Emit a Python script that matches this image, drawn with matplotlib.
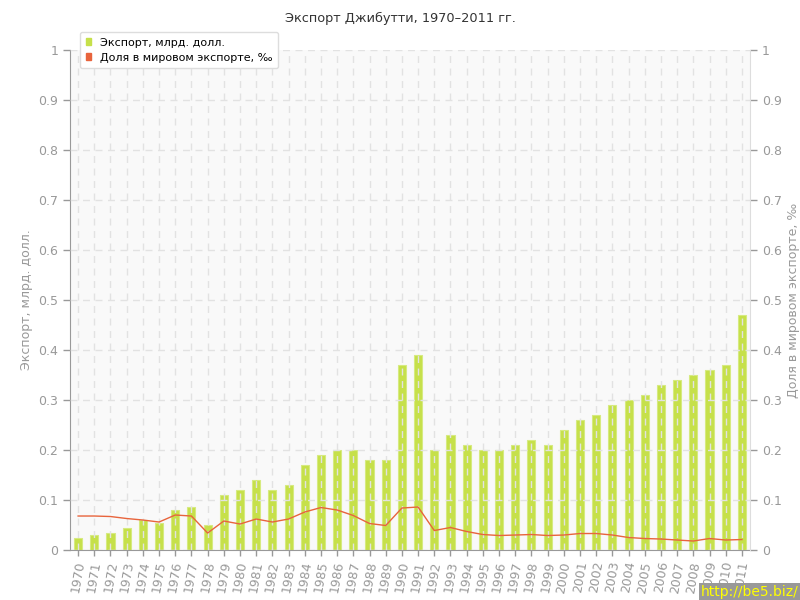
import matplotlib
matplotlib.use("Agg")
import matplotlib.pyplot as plt
import matplotlib.patches as mpatches
import numpy as np

years = list(range(1970, 2012))
export = [0.025, 0.03, 0.035, 0.045, 0.06, 0.055, 0.08, 0.086, 0.05, 0.11,
          0.12, 0.14, 0.12, 0.13, 0.17, 0.19, 0.2, 0.2, 0.18, 0.18,
          0.37, 0.39, 0.2, 0.23, 0.21, 0.2, 0.2, 0.21, 0.22, 0.21,
          0.24, 0.26, 0.27, 0.29, 0.30, 0.31, 0.33, 0.34, 0.35, 0.36,
          0.37, 0.47]
share = [0.068, 0.068, 0.067, 0.063, 0.060, 0.056, 0.070, 0.068, 0.034, 0.058,
         0.052, 0.062, 0.056, 0.062, 0.076, 0.085, 0.080, 0.069, 0.053, 0.049,
         0.084, 0.086, 0.039, 0.045, 0.037, 0.031, 0.029, 0.030, 0.031, 0.029,
         0.030, 0.033, 0.033, 0.030, 0.025, 0.023, 0.022, 0.020, 0.018, 0.023,
         0.020, 0.021]

gray = "#999999"
x = np.arange(len(years))

fig = plt.figure(figsize=(8, 6), dpi=100)
ax = fig.add_axes([0.0875, 0.0833, 0.85, 0.8334])
ax.set_facecolor("#f9f9f9")

ax.bar(x, export, width=0.5, color="#c6e04a", edgecolor="#d6ea80", linewidth=0.8,
       zorder=2, label="Экспорт, млрд. долл.")
ax2 = ax.twinx()
ax2.plot(x, share, color="#e8643c", linewidth=1, zorder=3,
         label="Доля в мировом экспорте, ‰")

ax.set_xlim(-0.5, len(years) - 0.5)
ax.set_ylim(0, 1)
ax2.set_ylim(0, 1)
yt = np.arange(0, 1.01, 0.1)
ylabels = ["0"] + ["%.1f" % v for v in yt[1:-1]] + ["1"]
ax.set_yticks(yt)
ax.set_yticklabels(ylabels)
ax2.set_yticks(yt)
ax2.set_yticklabels(ylabels)
ax.set_xticks(x)
ax.set_xticklabels([str(y) for y in years], rotation=80, ha="center")

ax.grid(True, color="#e2e2e2", linestyle=(0, (5, 4)), linewidth=1, zorder=4)
ax.set_axisbelow(False)

for a in (ax, ax2):
    for s in a.spines.values():
        s.set_visible(False)
    a.tick_params(colors=gray, labelsize=9, length=5, width=1)
ax.spines["left"].set_visible(True)
ax.spines["left"].set_color(gray)
ax.spines["bottom"].set_visible(True)
ax.spines["bottom"].set_color(gray)
ax2.spines["right"].set_visible(True)
ax2.spines["right"].set_color("#dddddd")
ax.tick_params(axis="x", labelsize=9, length=4)

ax.set_ylabel("Экспорт, млрд. долл.", color=gray, fontsize=9)
ax2.set_ylabel("Доля в мировом экспорте, ‰", color=gray, fontsize=9)
fig.text(0.5, 0.97, "Экспорт Джибутти, 1970–2011 гг.", ha="center", va="center",
         fontsize=9.3, color="#333333")

l1 = ax.get_legend_handles_labels()[1]
l2 = ax2.get_legend_handles_labels()[1]
hs = [mpatches.Patch(color="#c6e04a"), mpatches.Patch(color="#e8643c")]
leg = ax2.legend(hs, l1 + l2, loc="upper left", bbox_to_anchor=(0.015, 1.036),
                 borderaxespad=0, fontsize=8, frameon=True, fancybox=True,
                 handlelength=0.5, handleheight=0.5, borderpad=0.5,
                 labelspacing=0.45, handletextpad=0.8, framealpha=1)
leg.get_frame().set_edgecolor("#dddddd")
leg.set_zorder(10)

fig.text(0.998, 0.002, "http://be5.biz/", ha="right", va="bottom", fontsize=10,
         color="#ffff00",
         bbox=dict(facecolor="#999999", edgecolor="none", pad=1.5))

fig.savefig("out.png", dpi=100)
